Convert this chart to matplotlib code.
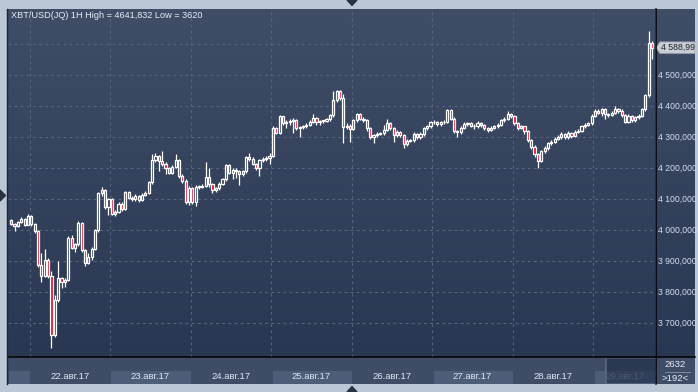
import matplotlib

matplotlib.use("Agg")
import matplotlib.pyplot as plt
import numpy as np
from matplotlib.colors import LinearSegmentedColormap
from matplotlib.lines import Line2D
from matplotlib.patches import Polygon

plt.rcParams["font.family"] = ["Liberation Sans", "DejaVu Sans"]

# hourly XBT/USD candles, 21.08.17 19:00 .. 29.08.17 (open = previous close)
FIRST_OPEN = 4032
CLOSE = [4020, 4014, 4027, 4035, 4018, 4045, 4020, 3998, 3888, 3852,
         3905, 3852, 3662, 3775, 3846, 3833, 3840, 3975, 3942, 3955,
         4025, 3935, 3895, 3915, 3940, 4000, 4120, 4130, 4075, 4100,
         4052, 4060, 4085, 4070, 4123, 4105, 4102, 4110, 4098, 4115,
         4120, 4155, 4226, 4240, 4222, 4215, 4200, 4185, 4205, 4226,
         4175, 4160, 4090, 4136, 4092, 4139, 4140, 4142, 4171, 4148,
         4129, 4135, 4150, 4165, 4210, 4186, 4195, 4190, 4180, 4190,
         4236, 4230, 4215, 4200, 4226, 4230, 4232, 4240, 4329, 4315,
         4368, 4345, 4350, 4352, 4355, 4330, 4333, 4335, 4340, 4350,
         4362, 4348, 4352, 4353, 4358, 4371, 4419, 4448, 4426, 4332,
         4338, 4327, 4355, 4374, 4360, 4355, 4329, 4300, 4306, 4310,
         4313, 4325, 4345, 4329, 4307, 4316, 4307, 4278, 4288, 4290,
         4310, 4300, 4310, 4329, 4335, 4348, 4350, 4342, 4348, 4350,
         4387, 4360, 4320, 4316, 4330, 4342, 4345, 4338, 4335, 4345,
         4340, 4330, 4325, 4330, 4335, 4340, 4355, 4360, 4375, 4368,
         4345, 4330, 4335, 4320, 4290, 4270, 4245, 4225, 4255, 4265,
         4280, 4285, 4295, 4300, 4310, 4300, 4315, 4305, 4318, 4320,
         4335, 4340, 4345, 4370, 4385, 4380, 4390, 4375, 4372, 4380,
         4392, 4385, 4372, 4350, 4370, 4355, 4365, 4370, 4390, 4435,
         4603, 4588.99]
HIGH = [4036, 4022, 4030, 4042, 4038, 4052, 4050, 4024, 4002, 3926,
        3940, 3912, 3870, 3790, 3900, 3850, 3845, 3980, 3985, 3960,
        4030, 4028, 3940, 3925, 3945, 4005, 4125, 4140, 4133, 4105,
        4104, 4066, 4092, 4090, 4128, 4126, 4110, 4116, 4114, 4120,
        4126, 4160, 4245, 4248, 4244, 4255, 4220, 4205, 4212, 4245,
        4230, 4180, 4165, 4142, 4140, 4145, 4146, 4150, 4220, 4200,
        4152, 4140, 4155, 4170, 4215, 4214, 4200, 4200, 4195, 4195,
        4240, 4250, 4235, 4218, 4230, 4236, 4240, 4250, 4335, 4332,
        4372, 4370, 4356, 4358, 4362, 4358, 4338, 4340, 4346, 4356,
        4375, 4366, 4356, 4356, 4362, 4376, 4448, 4452, 4452, 4440,
        4345, 4342, 4360, 4380, 4378, 4364, 4358, 4332, 4312, 4316,
        4318, 4340, 4358, 4350, 4332, 4322, 4320, 4312, 4294, 4296,
        4316, 4314, 4316, 4334, 4340, 4354, 4356, 4354, 4354, 4356,
        4392, 4390, 4364, 4325, 4335, 4350, 4350, 4348, 4342, 4352,
        4350, 4344, 4334, 4336, 4340, 4346, 4360, 4366, 4385, 4380,
        4372, 4350, 4340, 4338, 4325, 4294, 4275, 4250, 4260, 4272,
        4286, 4292, 4300, 4306, 4316, 4314, 4320, 4318, 4322, 4326,
        4340, 4346, 4350, 4376, 4392, 4390, 4396, 4394, 4380, 4386,
        4402, 4396, 4390, 4376, 4374, 4372, 4370, 4376, 4396, 4440,
        4641.832, 4612]
LOW = [4016, 3996, 4010, 4024, 4014, 4016, 4015, 3990, 3880, 3833,
       3848, 3845, 3620, 3655, 3770, 3815, 3818, 3835, 3938, 3930,
       3950, 3930, 3885, 3890, 3905, 3935, 3995, 4112, 4070, 4050,
       4048, 4046, 4055, 4062, 4066, 4100, 4095, 4096, 4090, 4094,
       4110, 4116, 4150, 4220, 4190, 4208, 4180, 4180, 4180, 4200,
       4170, 4152, 4085, 4080, 4085, 4078, 4132, 4135, 4138, 4140,
       4120, 4124, 4130, 4145, 4160, 4180, 4165, 4170, 4146, 4175,
       4185, 4225, 4210, 4195, 4175, 4220, 4225, 4215, 4235, 4310,
       4310, 4340, 4330, 4340, 4313, 4325, 4300, 4328, 4330, 4336,
       4346, 4340, 4340, 4345, 4348, 4354, 4366, 4414, 4420, 4281,
       4326, 4285, 4322, 4350, 4355, 4350, 4320, 4295, 4280, 4302,
       4306, 4308, 4320, 4322, 4285, 4302, 4300, 4265, 4272, 4284,
       4285, 4294, 4296, 4305, 4325, 4330, 4342, 4336, 4338, 4344,
       4346, 4355, 4315, 4300, 4312, 4326, 4338, 4332, 4328, 4330,
       4334, 4325, 4318, 4320, 4326, 4330, 4336, 4350, 4356, 4362,
       4340, 4325, 4326, 4312, 4285, 4262, 4238, 4200, 4220, 4250,
       4258, 4275, 4280, 4290, 4296, 4294, 4296, 4298, 4300, 4314,
       4316, 4330, 4336, 4340, 4365, 4374, 4370, 4360, 4366, 4368,
       4376, 4380, 4366, 4345, 4346, 4350, 4350, 4360, 4366, 4386,
       4430, 4552]
DAY_LABELS = ["22.авг.17", "23.авг.17", "24.авг.17", "25.авг.17",
              "26.авг.17", "27.авг.17", "28.авг.17", "29.авг.17"]
FIRST_DAY_BAR = 6          # first candle of 22.08
BARS_PER_DAY = 24
PRICE_TICKS = [3700, 3800, 3900, 4000, 4100, 4200, 4300, 4400, 4500]
GRID_PRICES = PRICE_TICKS + [4600]
BARS_TOTAL = 2632

W, H = 698, 392
BORDER = "#bcc7d5"
BG_TOP, BG_BOT = "#3f4d67", "#2a3752"
PANEL = "#3e4c66"
BAND = "#4d5c77"
GRIDC = "#56647f"
TXT = "#dde6f3"
RED = "#e8102e"


def fx(x):
    return x / W


def fy(y):
    return 1 - y / H


def num(v, dec=3):
    return f"{v:,.{dec}f}".replace(",", " ").replace(".", ",")


o = np.r_[FIRST_OPEN, CLOSE[:-1]].astype(float)
c = np.array(CLOSE, float)
hi = np.array(HIGH, float)
lo = np.array(LOW, float)
x = np.arange(len(c))
XLIM = (-0.95, 191.9)
YLIM = (3591, 4714)
bg = LinearSegmentedColormap.from_list("bg", [BG_TOP, BG_BOT])
grad = np.linspace(0, 1, 256).reshape(-1, 1)

fig = plt.figure(figsize=(W / 100, H / 100), dpi=100, facecolor=BORDER)

# main plot
ax = fig.add_axes([fx(8), fy(357), 647 / W, 348 / H])
ax.imshow(grad, cmap=bg, aspect="auto", extent=(*XLIM, *YLIM), zorder=0)
ax.set_xlim(*XLIM)
ax.set_ylim(*YLIM)
ax.axis("off")
for p in GRID_PRICES:
    ax.axhline(p, color=GRIDC, lw=0.8, ls=(0, (2.5, 3)), zorder=1)
bounds = [FIRST_DAY_BAR - 0.5 + BARS_PER_DAY * k for k in range(len(DAY_LABELS))]
for b in bounds:
    ax.axvline(b, color=GRIDC, lw=0.8, ls=(0, (2.5, 3)), zorder=1)

up = c >= o
b_lo = np.minimum(o, c)
b_hi = np.maximum(o, c)
h = np.maximum(b_hi - b_lo, 2.5)
ax.vlines(x, lo, b_lo, color="white", lw=0.9, zorder=2)
ax.vlines(x, b_hi, hi, color="white", lw=0.9, zorder=2)
ax.bar(x[up], h[up], bottom=b_lo[up], width=0.64, facecolor="none",
       edgecolor="white", lw=0.9, zorder=3)
ax.bar(x[~up], h[~up], bottom=b_lo[~up], width=0.64, facecolor=RED,
       edgecolor="white", lw=0.9, zorder=3)

title = (f"XBT/USD(JQ) 1H High = {num(hi.max()).replace(' ', '')} "
         f"Low = {lo.min():g}")
ax.text(0.004, 0.995, title, transform=ax.transAxes, color="#e8eef7",
        fontsize=6.6, va="top", ha="left")

# right price axis
axr = fig.add_axes([fx(656), fy(357), 39 / W, 348 / H])
axr.imshow(grad, cmap=bg, aspect="auto", extent=(0, 1, *YLIM), zorder=0)
axr.set_xlim(0, 1)
axr.set_ylim(*YLIM)
axr.axis("off")
for p in PRICE_TICKS:
    axr.text(0.04, p, num(p), color="#d3def0", fontsize=6.2, va="center",
             ha="left")
last = c[-1]
ty = axr.get_yaxis_transform()
axr.add_patch(Polygon([(0.0, last), (0.1, last + 19), (1.0, last + 19),
                       (1.0, last - 19), (0.1, last - 19)], closed=True,
                      transform=ty, facecolor="#c9cdd4", edgecolor="#8d96a3",
                      lw=0.6, zorder=4))
axr.text(0.12, last, num(last, 2), transform=ty, color="#1b2331",
         fontsize=6.3, va="center", ha="left", zorder=5)

# date axis
axb = fig.add_axes([fx(8), fy(384), 647 / W, 27 / H], facecolor=PANEL)
axb.set_xlim(*XLIM)
axb.set_ylim(0, 1)
axb.axis("off")
axb.add_patch(plt.Rectangle((XLIM[0], 0), XLIM[1] - XLIM[0], 1, color=PANEL,
                            zorder=0))
edges = [XLIM[0]] + bounds + [XLIM[1]]
for k in range(0, len(edges) - 1, 2):
    axb.axvspan(edges[k] + 0.4, edges[k + 1], ymin=0, ymax=0.48, color=BAND,
                lw=0, zorder=1)
for k, lab in enumerate(DAY_LABELS):
    mid = min(bounds[k] + BARS_PER_DAY / 2, XLIM[1] - 9)
    dim = k == len(DAY_LABELS) - 1
    axb.text(mid, 0.28, lab, color="#8e9bb0" if dim else TXT, fontsize=6.8,
             ha="center", va="center", zorder=2)
# scroller overlay on the last day
sx = bounds[-1] + 3.9
axb.add_patch(plt.Rectangle((sx, 0.04), XLIM[1] - sx, 0.9, color="#1f2b45",
                            alpha=0.6, lw=0, zorder=3))
axb.plot([sx, sx], [0.04, 0.94], color="#5c6880", lw=1.2, zorder=4)

# corner box
axc = fig.add_axes([fx(656), fy(384), 39 / W, 27 / H], facecolor=PANEL)
axc.set_xlim(0, 1)
axc.set_ylim(0, 1)
axc.axis("off")
axc.add_patch(plt.Rectangle((0, 0), 1, 1, color=PANEL, zorder=0))
axc.text(0.5, 0.74, str(BARS_TOTAL), color="#e8eef6", fontsize=6.8,
         ha="center", va="center")
axc.plot([0.22, 0.88], [0.46, 0.46], color="#8a96a8", lw=0.6)
axc.text(0.5, 0.22, f">{len(c)}<", color="#e8eef6", fontsize=6.8,
         ha="center", va="center")

# frame lines and scroll arrows
fig.add_artist(Line2D([fx(655.5)] * 2, [fy(9), fy(384)], color="black", lw=1.1))
fig.add_artist(Line2D([fx(8), fx(695)], [fy(356.8)] * 2, color="black", lw=1.1))
fig.add_artist(Line2D([fx(7.5)] * 2, [fy(9), fy(384)], color="#1c2332", lw=1.0))
for pts in ([(347, 0), (357, 0), (352, 5.5)],
            [(347, 392), (357, 392), (352, 386.5)],
            [(0, 190), (0, 201), (5.5, 195.5)]):
    fig.add_artist(Polygon([(fx(a), fy(b)) for a, b in pts], closed=True,
                           transform=fig.transFigure, color="#283042"))

fig.savefig("out.png", dpi=100, facecolor=BORDER)
